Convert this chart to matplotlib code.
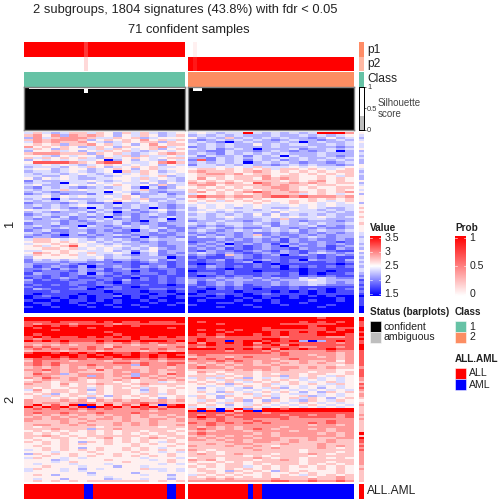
import numpy as np
import matplotlib
matplotlib.use('Agg')
import matplotlib.pyplot as plt
from matplotlib.colors import LinearSegmentedColormap
from matplotlib.patches import Rectangle

plt.rcParams['font.family'] = ['Liberation Sans', 'DejaVu Sans']

# digit codes for the heatmap, read by eye, one string per row band
levels = [1.5, 1.8, 2.0, 2.2, 2.36, 2.56, 2.72, 2.9, 3.15, 3.5]

top_left = [
"464346646536464345","675737676535465346","374677764465634555","676777635656575646",
"476766754346566365","565636675645357566","756565346536556745","465365546465456356",
"355645354656434545","677766636564345676","554354553546364454","646565643645654566",
"354545445035354354","588887657885445786","445454345654545354",
"344435465345656445","455345534565356455","344345434506465345","434434543454565454",
"443354344345545634","535454334455464543","243344454345454343","344304435454435354",
"453345454565453634","324343234345304235","434464544545463344","343233344054343233",
"234323324345233423","445354544546534434","343043334456463343","434345434565453434",
"233323422303344334","343434544343434323","323432304323430323","544543343434234534",
"343233424303323423","234334343423234323","343242323034232343","323432343423233403",
"433323234343203423","233423323342323233","343233043234343223","323343433323343422",
"234223323232034232","432323423322332323","323203232343232223","233223323322303232",
"466545434343234334","566565453434323233","455656544343333233","564568545454343223",
"556656454543435323","445565544534245233","576565464454034232","465656454343234223",
"355555445344333302","243434434233234232","233323322212123212","322232123222112212",
"312321302232132312","223132323123221221","212221322122021121","132212303212122121",
"221212122121211211","121232112211021212","312121221213121212","211112212102111212",
"121212112211121101","211111210121011111","132112201221112212","111211111011101101",
"101111011101110110","012110101120101101","011010101100101001","100101101010010100",
"011001010010001001","001000100100100010","100100010010010000","000000000000000000",
"000000000000000000"]

top_right = [
"454344943434349997","343434333433434345","534363434343323534","323434343234332343",
"343203433343034334","434343353434433434","234343333433343323","434234303334233434",
"332243323432323403","343243434343334333","424334243404334323","332434343343433434",
"282434243423434343","343434034343233234","244343433234343323",
"444545464445454445","566565656466565456","676665676565656566","567767566556565656",
"566656667566556546","575656657676556565","656565666656567565","767676587667676566",
"677566667676656655","565656566776565566","656565656676556565","675656787667656567",
"455656567666456545","787767767887877767","565656565555565656","656465656556565456",
"545555565456554545","454545454445454544","354543454334454334","345454434545443434",
"454343444354444343","343434353534343433","443454344545445434","343343334363344333",
"233433234343233323","434344343243434334","323234334233342323","234323223432323223",
"343234343434234334","232332322323232323","323232362322323233","243432343232343233",
"222323232313232232","123232232213223212","232302323132323232","323232123203223123",
"232312123221322132","213221232132123211","343232123232134323","232163212302321232",
"121123212211121211","212312123212032213","112212301212211212","101211121011111101",
"213212121202121212","112101111101011111","011121101111011011","122121112212010112",
"101212212112121211","222323232322434322","323233323233454333","312323222323344323",
"212323122323343222","121212112112111111","110212101112121012","101110111010101011",
"011211012111101111","110101001101010100","001100101001000010","010001010100010010",
"000110000100100000","100000100010000100","000100010000001000","000000000000000000",
"000000000000000000"]

bottom_left = [
"999999999999999999","999999999999999999","888988889898898889","878887888878888888",
"899898999899899999","989999989999999989","999899999999999999","999999999899999999",
"989999999989999999","898988989898989898","878888888888988888","989898889899899989",
"777787778778787887","767676777677677677","878777787687777778","787878787877787877",
"677767776777767767","899898989988988999","999999898998989898","998989899899989899",
"788878878878878788","687776777677677677","787877777788787788","787867787777387787",
"676767676767667767","778767768677767677","676767666676767667","687736777677377687",
"677666737676376767","768767677667867676","567667656676566767","676566656656566456",
"766575667665676666","666565656566565565","656556646565646556","475665636566536565",
"565665656566546565","656356646566566465","564656565365656556","566565636565565356",
"766676757676766767","767767776767787766","796869096968696089","979897909897989799",
"787878787877787877","777777677777776777","787787778777877777","767676767677676767",
"676767666767676676","776776767767667767","766676676667667667","666676766676767666",
"677667676676767667","656666665666666566","666766636676666665","565656565656656656",
"656565565656565665","667656566666656566","655665656756567656","565565555656565565",
"656565365656565465","556565655655656556","565565555555655565","556565356556565455",
"456565656556565656","555455565555655454","365656556565565565","556556565565656565",
"465545455555545554","555345555655554565","555456555556555565","545554555455555454",
"556555455535545555","465545354555564454","455545455555555454","555555535555355555",
"565355545555545535","555555555455555545","545535555345545535","565656566666665656"]

bottom_right = [
"999999999999998999","999999999999999999","989999999999898989","999899999988888899",
"999999999999989999","999999998999988988","989898998888888989","999989999898989899",
"989899989898889998","888788888878888778","898888889988888888","898808998989303898",
"979898979888888878","889888988979888888","878888878888778878","999898989798988988",
"888878887877777877","888888888787777767","787777777787767767","677767877777776767",
"878787777678777767","777878767766766757","676767767676767667","767676766766666656",
"787767777677676766","666676767676666655","576566656666656656","565656656566566556",
"666465656636565465","464656354546464545","565464656565454545","656565465656545645",
"565636556456565465","554545656545454545","535454354635453545","545454545454545454",
"565365456565353656","554545645454454545","465365546455634545","565356565356465356",
"546546353654365465","565465456545654545","656535465454565454","454545654565454545",
"696069269989999999","909096909999999999","888878887888888888","878787888878878878",
"898878888887888878","787877877787777777","777877787777777877","878787878777787877",
"778777777777767767","767676777767777777","787676787677767677","676777677776777677",
"787777767677776767","676767677677777767","767677767766676677","776767677767676766",
"666677677667666766","667667766676667666","766676676566667676","666666766766667656",
"765666676666566666","656566666666566656","676567666566676566","666666565666656666",
"566566676566566565","767566656676566666","655656566666566566","566566565666565656",
"656566456565656565","565565656565556565","566536565365655565","556565656556565565",
"465656556565465656","656565656566656676","667676666766676676","777777777887787787"]

strip_top = "54345445343433554343353454535553565656556555443443435343434344323121212101111000000"[:80]
strip_bottom = "99888998989889998888888878888776878767765676666767666666969887878777777767666666"

# annotation columns
p1_left = [1.0] * 35
p1_left[13] = 0.78
p2_left = [0.0] * 35
p2_left[13] = 0.15
p1_right = [0.0] * 36
p1_right[1] = 0.06
p2_right = [1.0] * 36
p2_right[1] = 0.9
sil_left = [0.95] * 35
sil_left[0] = 0.97
sil_left[13] = 0.85
sil_right = [0.97] * 36
sil_right[1] = 0.9
sil_right[2] = 0.9
aml_left = [13, 14, 31, 32]
aml_right = [13] + list(range(16, 36))

value_ticks = [3.5, 3, 2.5, 2, 1.5]
prob_ticks = [1, 0.5, 0]

value_cmap = LinearSegmentedColormap.from_list('val', ['#0000ff', '#ffffff', '#ff0000'])
prob_cmap = LinearSegmentedColormap.from_list('prob', ['#ffffff', '#ff0000'])
green = '#66c2a5'
orange = '#fc8d62'


def to_matrix(rows):
    return np.array([[levels[int(c)] for c in r] for r in rows])


fig = plt.figure(figsize=(7, 7), dpi=72)


def box(x0, y0, x1, y1):
    # pixel box, y from top
    a = fig.add_axes([x0 / 504, 1 - y1 / 504, (x1 - x0) / 504, (y1 - y0) / 504])
    a.set_xticks([])
    a.set_yticks([])
    for s in a.spines.values():
        s.set_visible(False)
    return a


def show(x0, y0, x1, y1, data, cmap, vmin, vmax):
    a = box(x0, y0, x1, y1)
    a.imshow(data, cmap=cmap, vmin=vmin, vmax=vmax, aspect='auto', interpolation='nearest')
    return a


L = (24, 185)
R = (188, 354)
S = (359, 364)

# heatmaps
show(L[0], 132, L[1], 313, to_matrix(top_left), value_cmap, 1.5, 3.5)
show(R[0], 132, R[1], 313, to_matrix(top_right), value_cmap, 1.5, 3.5)
show(L[0], 317, L[1], 482, to_matrix(bottom_left), value_cmap, 1.5, 3.5)
show(R[0], 317, R[1], 482, to_matrix(bottom_right), value_cmap, 1.5, 3.5)
show(S[0], 132, S[1], 313, to_matrix(list(strip_top)), value_cmap, 1.5, 3.5)
show(S[0], 317, S[1], 482, to_matrix(list(strip_bottom)), value_cmap, 1.5, 3.5)

# p1 p2 rows
show(L[0], 42, L[1], 57, [p1_left], prob_cmap, 0, 1)
show(L[0], 57, L[1], 71, [p2_left], prob_cmap, 0, 1)
show(R[0], 42, R[1], 57, [p1_right], prob_cmap, 0, 1)
show(R[0], 57, R[1], 71, [p2_right], prob_cmap, 0, 1)
box(L[0], 72, L[1], 87).set_facecolor(green)
box(R[0], 72, R[1], 87).set_facecolor(orange)
box(S[0], 42, S[1], 57).set_facecolor('#ff8c66')
box(S[0], 57, S[1], 71).set_facecolor('#ffb8a3')
box(S[0], 72, S[1], 87).set_facecolor(green)

# silhouette bars
for (x0, x1), vals in ((L, sil_left), (R, sil_right)):
    a = box(x0, 87, x1, 130)
    a.bar(range(len(vals)), vals, width=1.02, color='black', linewidth=0, antialiased=False)
    a.set_xlim(-0.5, len(vals) - 0.5)
    a.set_ylim(0, 1)
    for s in a.spines.values():
        s.set_visible(True)
        s.set_color('#808080')
        s.set_linewidth(1.4)

# silhouette summary strip
a = box(S[0], 87, S[1], 130)
a.bar([0], [0.33], width=1.0, color='#bebebe')
a.set_xlim(-0.5, 0.5)
a.set_ylim(0, 1)
for s in a.spines.values():
    s.set_visible(True)
    s.set_linewidth(1)
a.yaxis.tick_right()
a.set_yticks([0, 0.5, 1])
a.set_yticklabels(['0', '0.5', '1'], fontsize=7.5, color='#333333')
a.tick_params(axis='y', length=2, width=0.6, pad=1)

# bottom annotation
for (x0, x1), idx, n in ((L, aml_left, 35), (R, aml_right, 36)):
    col = np.zeros((1, n))
    col[0, idx] = 1
    show(x0, 484, x1, 499, col, LinearSegmentedColormap.from_list('aa', ['#ff0000', '#0000ff']), 0, 1)
box(S[0], 484, S[1], 499).set_facecolor('#ff0000')

# colour keys
for x0, cmap, vmin, vmax, ticks in ((370, value_cmap, 1.5, 3.5, value_ticks),
                                    (455, prob_cmap, 0, 1, prob_ticks)):
    a = box(x0, 236, x0 + 11, 296)
    a.imshow(np.linspace(vmax, vmin, 200)[:, None], cmap=cmap, vmin=vmin, vmax=vmax,
             aspect='auto', extent=[0, 1, vmin - (vmax - vmin) * 0.035, vmax + (vmax - vmin) * 0.035])
    for t in ticks:
        a.plot([0, 0.2], [t, t], color='white', lw=0.6)
        a.plot([0.8, 1], [t, t], color='white', lw=0.6)
        a.text(1.3, t, str(t), fontsize=10.5, va='center', ha='left', color='#222222', clip_on=False)
    a.set_xlim(0, 1)
    a.set_ylim(vmin - (vmax - vmin) * 0.035, vmax + (vmax - vmin) * 0.035)

# overlay for text and swatches, in pixels
ov = fig.add_axes([0, 0, 1, 1])
ov.set_xlim(0, 504)
ov.set_ylim(504, 0)
ov.axis('off')
ov.patch.set_alpha(0)


def txt(x, y, s, size=10, weight='normal', **kw):
    kw.setdefault('ha', 'left')
    kw.setdefault('color', '#222222')
    ov.text(x, y, s, fontsize=size, fontweight=weight, va='center', **kw)


txt(185, 10, '2 subgroups, 1804 signatures (43.8%) with fdr < 0.05', 12.9, ha='center')
txt(189, 30, '71 confident samples', 12.9, ha='center')
txt(367, 50, 'p1', 12)
txt(367, 64, 'p2', 12)
txt(367, 79, 'Class', 12)
txt(367, 491, 'ALL.AML', 12)
txt(378, 103, 'Silhouette', 9.8, color='#444444')
txt(378, 114, 'score', 9.8, color='#444444')
txt(10, 223, '1', 12.9, rotation=90, ha='center')
txt(10, 399, '2', 12.9, rotation=90, ha='center')

txt(370, 228, 'Value', 10, 'bold')
txt(455, 228, 'Prob', 10, 'bold')
txt(370, 312, 'Status (barplots)', 10, 'bold')
txt(455, 312, 'Class', 10, 'bold')
txt(455, 359, 'ALL.AML', 10, 'bold')

swatches = [(370, 321, 'black', 'confident', 384), (370, 332, '#bebebe', 'ambiguous', 384),
            (455, 321, green, '1', 469), (455, 332, orange, '2', 469),
            (455, 368, '#ff0000', 'ALL', 469), (455, 379, '#0000ff', 'AML', 469)]
for x, y, c, label, tx in swatches:
    ov.add_patch(Rectangle((x, y), 11, 11, facecolor=c, edgecolor='white', lw=0.5))
    txt(tx, y + 5.5, label, 10.5)

plt.savefig('out.png', dpi=72)
